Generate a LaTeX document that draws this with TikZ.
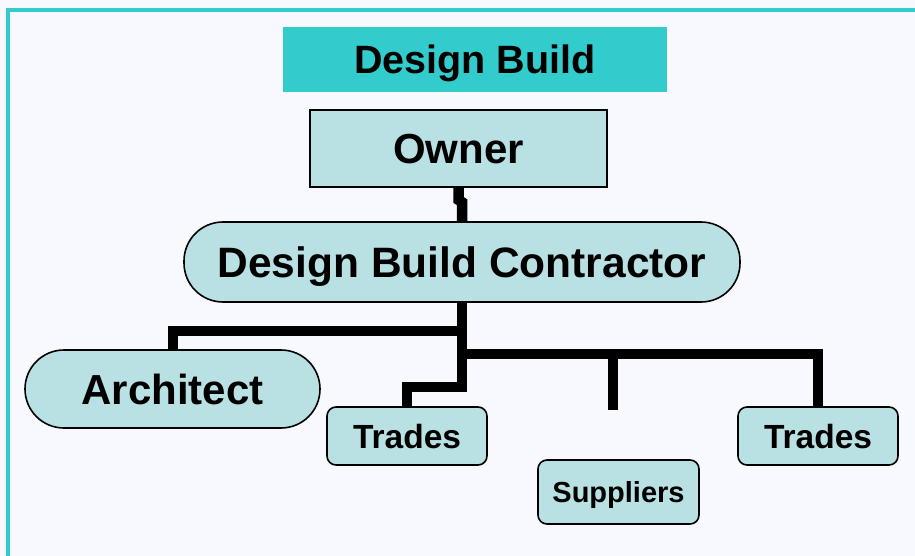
\documentclass[tikz,border=0pt]{standalone}
\usepackage{fontspec}
\setmainfont{Liberation Sans}
\begin{document}
\definecolor{pagebg}{HTML}{F7F9FE}
\definecolor{teal}{HTML}{33CCCC}
\definecolor{boxfill}{HTML}{B9E0E3}
\tikzset{
  px/.style={x=1pt,y=-1pt},
  lbl/.style={font=\fontsize{#1}{#1}\selectfont\bfseries,text depth=0pt},
  rbox/.style={draw=black,line width=1.6pt,fill=boxfill,rounded corners=9pt,inner sep=0pt},
  sqbox/.style={draw=black,line width=1.8pt,fill=boxfill,inner sep=0pt},
  pill/.style={draw=black,line width=1.6pt,fill=boxfill,inner sep=0pt,rounded corners=39pt},
  conn/.style={draw=black,line width=10.5pt,line cap=butt,line join=miter},
}
\begin{tikzpicture}[px]
  % page and outer frame
  \fill[pagebg] (0,0) rectangle (915,556);
  \useasboundingbox (0,0) rectangle (915,556);
  \draw[teal,line width=4pt] (8,580) -- (8,10) -- (940,10);

  % title banner
  \node[fill=teal,minimum width=384pt,minimum height=65pt,inner sep=0pt,lbl=39.5]
    (title) at (475,59.5) {Design Build};

  % boxes
  \node[sqbox,minimum width=297pt,minimum height=77pt,lbl=42]
    (owner) at (458.5,148.5) {Owner};
  \node[pill,minimum width=556pt,minimum height=80pt,lbl=42.5]
    (dbc) at (462,262) {Design Build Contractor};
  \node[pill,minimum width=295pt,minimum height=78pt,lbl=42]
    (arch) at (172.5,389) {Architect};
  \node[rbox,minimum width=160pt,minimum height=58pt,lbl=33.5]
    (t1) at (407,436) {Trades};
  \node[rbox,minimum width=161pt,minimum height=64pt,lbl=29]
    (sup) at (618.5,492) {Suppliers};
  \node[rbox,minimum width=160pt,minimum height=58pt,lbl=33.5]
    (t2) at (818,436) {Trades};

  % connectors
  \coordinate (bus) at (462,354);
  \coordinate (sdrop) at (613,410);
  \draw[conn] (owner.south) -- ++(0,12) -- ([yshift=19pt]dbc.north) -- (dbc.north);
  \draw[conn] (dbc.south) -- ++(0,28) -| ([xshift=0.5pt]arch.north);
  \draw[conn] (dbc.south) -- ++(0,84) -| (t1.north);
  \draw[conn] (bus) -| (t2.north);
  \draw[conn] (bus -| sdrop) -- (sdrop);
\end{tikzpicture}
\end{document}
